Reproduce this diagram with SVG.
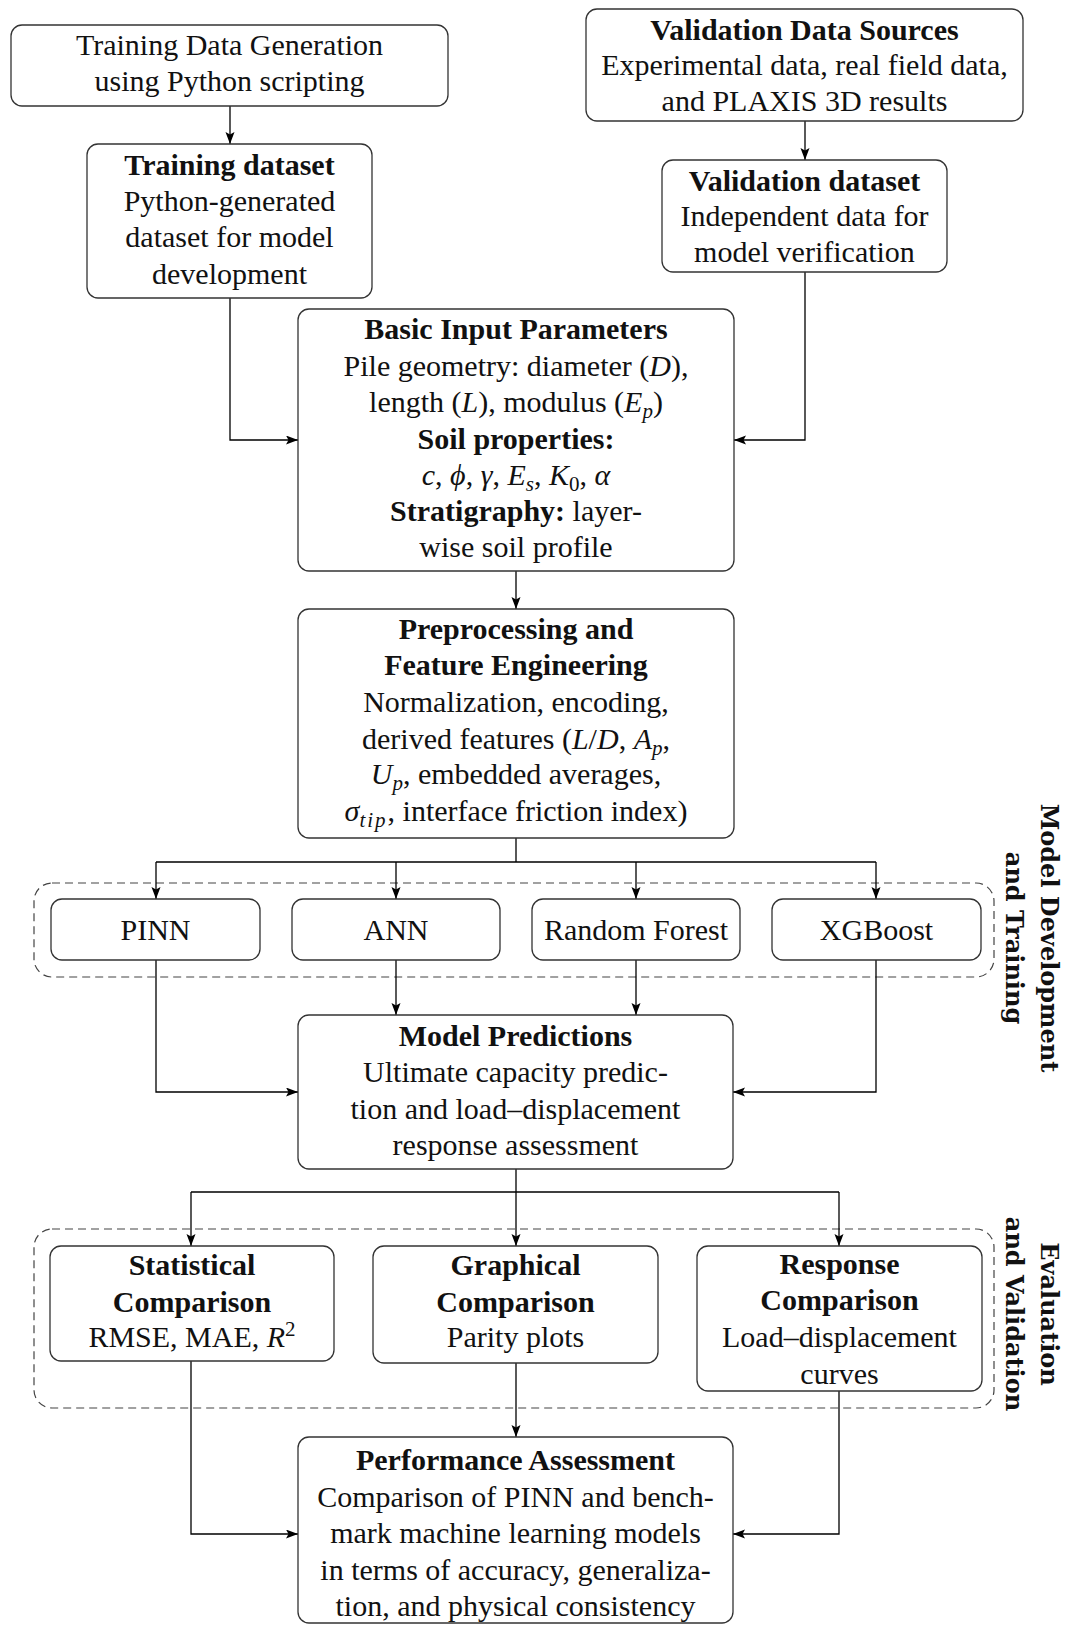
<svg xmlns="http://www.w3.org/2000/svg" width="1066" height="1625" viewBox="0 0 1066 1625">
  <defs>
    <marker id="arr" markerUnits="userSpaceOnUse" markerWidth="13" markerHeight="10" refX="12" refY="4.5" orient="auto">
      <path d="M0,0 L12,4.5 L0,9 L2.5,4.5 z" fill="#000"/>
    </marker>
    <style>
      .box { fill: #fff; stroke: #333; stroke-width: 1.3; }
      .grp { fill: none; stroke: #444; stroke-width: 1.2; stroke-dasharray: 8 5; }
      .con { fill: none; stroke: #000; stroke-width: 1.3; }
      .arw { marker-end: url(#arr); }
      .t { font-family: "Liberation Serif", "Times New Roman", serif; font-size: 30px; text-anchor: middle; fill: #111; }
      .b { font-weight: bold; }
      .i { font-style: italic; }
      .side { font-family: "DejaVu Serif", "Liberation Serif", serif; font-weight: bold; font-size: 24px; text-anchor: middle; fill: #111; }
    </style>
  </defs>

  <rect width="1066" height="1625" fill="#fff"/>

  <!-- dashed stage groups -->
  <g id="stage-training">
    <rect class="grp" x="34" y="883" width="960" height="94" rx="18"/>
    <text class="side" transform="translate(1041,938) rotate(90)">Model Development</text>
    <text class="side" transform="translate(1006,938) rotate(90)">and Training</text>
  </g>
  <g id="stage-evaluation">
    <rect class="grp" x="34" y="1229" width="960" height="179" rx="18"/>
    <text class="side" transform="translate(1041,1314) rotate(90)">Evaluation</text>
    <text class="side" transform="translate(1006,1314) rotate(90)">and Validation</text>
  </g>

  <!-- connectors -->
  <g id="connectors">
    <path class="con arw" d="M230,106 V144"/>
    <path class="con arw" d="M805,121 V160"/>
    <path class="con arw" d="M230,298 V440 H298"/>
    <path class="con arw" d="M805,272 V440 H734"/>
    <path class="con arw" d="M516,571 V609"/>
    <path class="con" d="M516,838 V862 M156,862 H876"/>
    <path class="con arw" d="M156,862 V899"/>
    <path class="con arw" d="M396,862 V899"/>
    <path class="con arw" d="M636,862 V899"/>
    <path class="con arw" d="M876,862 V899"/>
    <path class="con arw" d="M396,960 V1015"/>
    <path class="con arw" d="M636,960 V1015"/>
    <path class="con arw" d="M156,960 V1092 H298"/>
    <path class="con arw" d="M876,960 V1092 H733"/>
    <path class="con" d="M516,1169 V1192 M191,1192 H839"/>
    <path class="con arw" d="M191,1192 V1246"/>
    <path class="con arw" d="M516,1192 V1246"/>
    <path class="con arw" d="M839,1192 V1246"/>
    <path class="con arw" d="M191,1361 V1534 H298"/>
    <path class="con arw" d="M516,1363 V1437"/>
    <path class="con arw" d="M839,1391 V1534 H733"/>
  </g>

  <!-- nodes -->
  <g id="training-generation">
    <rect class="box" x="11" y="25" width="437" height="81" rx="11"/>
    <text class="t" x="229.5" y="55">Training Data Generation</text>
    <text class="t" x="229.5" y="91">using Python scripting</text>
  </g>

  <g id="validation-sources">
    <rect class="box" x="586" y="9" width="437" height="112" rx="11"/>
    <text class="t b" x="804.5" y="40">Validation Data Sources</text>
    <text class="t" x="804.5" y="75">Experimental data, real field data,</text>
    <text class="t" x="804.5" y="111">and PLAXIS 3D results</text>
  </g>

  <g id="training-dataset">
    <rect class="box" x="87" y="144" width="285" height="154" rx="11"/>
    <text class="t b" x="229.5" y="175">Training dataset</text>
    <text class="t" x="229.5" y="211">Python-generated</text>
    <text class="t" x="229.5" y="247">dataset for model</text>
    <text class="t" x="229.5" y="284">development</text>
  </g>

  <g id="validation-dataset">
    <rect class="box" x="662" y="160" width="285" height="112" rx="11"/>
    <text class="t b" x="804.5" y="191">Validation dataset</text>
    <text class="t" x="804.5" y="226">Independent data for</text>
    <text class="t" x="804.5" y="262">model verification</text>
  </g>

  <g id="basic-input">
    <rect class="box" x="298" y="309" width="436" height="262" rx="11"/>
    <text class="t b" x="516" y="339">Basic Input Parameters</text>
    <text class="t" x="516" y="376">Pile geometry:  diameter (<tspan class="i">D</tspan>),</text>
    <text class="t" x="516" y="412">length (<tspan class="i">L</tspan>), modulus (<tspan class="i">E</tspan><tspan class="i" dy="6" font-size="21">p</tspan><tspan dy="-6">)</tspan></text>
    <text class="t b" x="516" y="449">Soil properties:</text>
    <text class="t" x="516" y="485"><tspan class="i">c</tspan>, <tspan class="i">ϕ</tspan>, <tspan class="i">γ</tspan>, <tspan class="i">E</tspan><tspan class="i" dy="6" font-size="21">s</tspan><tspan dy="-6">, </tspan><tspan class="i">K</tspan><tspan dy="6" font-size="21">0</tspan><tspan dy="-6">, </tspan><tspan class="i">α</tspan></text>
    <text class="t" x="516" y="521"><tspan class="b">Stratigraphy:</tspan>  layer-</text>
    <text class="t" x="516" y="557">wise soil profile</text>
  </g>

  <g id="preprocessing">
    <rect class="box" x="298" y="609" width="436" height="229" rx="11"/>
    <text class="t b" x="516" y="639">Preprocessing and</text>
    <text class="t b" x="516" y="675">Feature Engineering</text>
    <text class="t" x="516" y="712">Normalization, encoding,</text>
    <text class="t" x="516" y="749">derived features (<tspan class="i">L</tspan>/<tspan class="i">D</tspan>, <tspan class="i">A</tspan><tspan class="i" dy="6" font-size="21">p</tspan><tspan dy="-6">,</tspan></text>
    <text class="t" x="516" y="784"><tspan class="i">U</tspan><tspan class="i" dy="6" font-size="21">p</tspan><tspan dy="-6">, embedded averages,</tspan></text>
    <text class="t" x="516" y="821"><tspan class="i">σ</tspan><tspan class="i" dy="6" font-size="21" letter-spacing="2">tip</tspan><tspan dy="-6">, interface friction index)</tspan></text>
  </g>

  <g id="pinn">
    <rect class="box" x="51" y="899" width="209" height="61" rx="11"/>
    <text class="t" x="155.5" y="940">PINN</text>
  </g>
  <g id="ann">
    <rect class="box" x="292" y="899" width="208" height="61" rx="11"/>
    <text class="t" x="396" y="940">ANN</text>
  </g>
  <g id="random-forest">
    <rect class="box" x="532" y="899" width="208" height="61" rx="11"/>
    <text class="t" x="636" y="940">Random Forest</text>
  </g>
  <g id="xgboost">
    <rect class="box" x="772" y="899" width="209" height="61" rx="11"/>
    <text class="t" x="876.5" y="940">XGBoost</text>
  </g>

  <g id="model-predictions">
    <rect class="box" x="298" y="1015" width="435" height="154" rx="11"/>
    <text class="t b" x="515.5" y="1046">Model Predictions</text>
    <text class="t" x="515.5" y="1082">Ultimate capacity predic-</text>
    <text class="t" x="515.5" y="1119">tion and load–displacement</text>
    <text class="t" x="515.5" y="1155">response assessment</text>
  </g>

  <g id="statistical-comparison">
    <rect class="box" x="50" y="1246" width="284" height="115" rx="11"/>
    <text class="t b" x="192" y="1275">Statistical</text>
    <text class="t b" x="192" y="1312">Comparison</text>
    <text class="t" x="192" y="1347">RMSE, MAE, <tspan class="i">R</tspan><tspan dy="-11" font-size="21">2</tspan></text>
  </g>

  <g id="graphical-comparison">
    <rect class="box" x="373" y="1246" width="285" height="117" rx="11"/>
    <text class="t b" x="515.5" y="1275">Graphical</text>
    <text class="t b" x="515.5" y="1312">Comparison</text>
    <text class="t" x="515.5" y="1347">Parity plots</text>
  </g>

  <g id="response-comparison">
    <rect class="box" x="697" y="1246" width="285" height="145" rx="11"/>
    <text class="t b" x="839.5" y="1274">Response</text>
    <text class="t b" x="839.5" y="1310">Comparison</text>
    <text class="t" x="839.5" y="1347">Load–displacement</text>
    <text class="t" x="839.5" y="1384">curves</text>
  </g>

  <g id="performance-assessment">
    <rect class="box" x="298" y="1437" width="435" height="186" rx="11"/>
    <text class="t b" x="515.5" y="1470">Performance Assessment</text>
    <text class="t" x="515.5" y="1507">Comparison of PINN and bench-</text>
    <text class="t" x="515.5" y="1543">mark machine learning models</text>
    <text class="t" x="515.5" y="1580">in terms of accuracy, generaliza-</text>
    <text class="t" x="515.5" y="1616">tion, and physical consistency</text>
  </g>
</svg>
